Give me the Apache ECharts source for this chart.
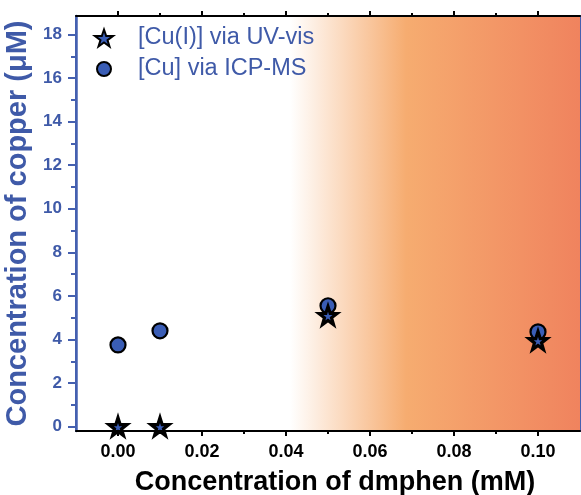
<!DOCTYPE html>
<html>
<head>
<meta charset="utf-8">
<script src="https://cdn.jsdelivr.net/npm/echarts@6/dist/echarts.min.js"></script>
<style>
html,body{margin:0;padding:0;background:#fff;}
#chart{width:581px;height:495px;}
</style>
</head>
<body>
<div id="chart"></div>
<script>
// Data
const xValues = [0, 0.01, 0.05, 0.1];
const uvVis = [0, 0, 5.1, 3.95];        // [Cu(I)] via UV-vis
const icpMs = [3.75, 4.4, 5.55, 4.35];  // [Cu] via ICP-MS
const xMajorTicks = [0, 0.02, 0.04, 0.06, 0.08, 0.10];
const xMinorTicks = [0.01, 0.03, 0.05, 0.07, 0.09];
const yMajorTicks = [0, 2, 4, 6, 8, 10, 12, 14, 16, 18];
const yMinorTicks = [1, 3, 5, 7, 9, 11, 13, 15, 17];
const seriesNames = ['[Cu(I)] via UV-vis', '[Cu] via ICP-MS'];
const xTitle = 'Concentration of dmphen (mM)';
const yTitle = 'Concentration of copper (\u03bcM)';
const shadeRange = [0.041, 0.11];
const yAllTicks = yMajorTicks.concat(yMinorTicks).sort((a, b) => a - b);

const FONT = "'Liberation Sans', Arial, sans-serif";
const BLUE = '#3F5AA8';
const AXBLUE = '#4560B0';
const FILL = '#3A5DB5';
const XMIN = -0.01, XMAX = 0.11, YMIN = -0.2, YMAX = 18.85;
const STAR = 'path://M50,0 L61.8,35.1 L98.1,35.1 L68.8,56.7 L79.4,90.5 L50,69.6 L20.6,90.5 L31.2,56.7 L1.9,35.1 L38.2,35.1 Z';

const legendText = { color: BLUE, fontSize: 23.5, fontFamily: FONT, lineHeight: 24 };

function tickAxis(kind, pos, ticks, len, color) {
  return {
    type: 'value', position: pos, z: 10,
    min: kind === 'x' ? XMIN : YMIN, max: kind === 'x' ? XMAX : YMAX,
    axisLine: { show: false, onZero: false },
    axisTick: { show: true, inside: false, length: len, customValues: ticks, lineStyle: { color: color, width: 2 } },
    axisLabel: { show: false },
    splitLine: { show: false }
  };
}
function lineAxis(kind, pos, color, width) {
  return {
    type: 'value', position: pos, z: 10,
    min: kind === 'x' ? XMIN : YMIN, max: kind === 'x' ? XMAX : YMAX,
    axisLine: { show: true, onZero: false, lineStyle: { color: color, width: width } },
    axisTick: { show: false },
    axisLabel: { show: false },
    splitLine: { show: false }
  };
}

const chart = echarts.init(document.getElementById('chart'));
chart.setOption({
  animation: false,
  backgroundColor: '#fff',
  grid: { left: 76, right: 1, top: 16, bottom: 64, outerBoundsMode: 'none',
    show: true, borderColor: AXBLUE, borderWidth: 2, backgroundColor: 'transparent' },
  legend: [
    {
      orient: 'vertical', left: 94, top: 26, padding: 0,
      itemWidth: 18, itemHeight: 18,
      data: [seriesNames[0]],
      textStyle: Object.assign({ padding: [0, 0, 0, 20] }, legendText)
    },
    {
      orient: 'vertical', left: 96, top: 57, padding: 0,
      itemWidth: 14, itemHeight: 14,
      data: [seriesNames[1]],
      textStyle: Object.assign({ padding: [0, 0, 0, 22] }, legendText)
    }
  ],
  xAxis: [
    { type: 'value', position: 'bottom', min: XMIN, max: XMAX,
      axisLine: { show: false, onZero: false },
      axisTick: { show: false },
      axisLabel: { customValues: xMajorTicks, margin: 12, color: '#000', fontSize: 18, fontWeight: 'bold', fontFamily: FONT,
        formatter: v => v.toFixed(2) },
      splitLine: { show: false },
      name: xTitle, nameLocation: 'middle', nameGap: 38,
      nameTextStyle: { color: '#000', fontSize: 27, fontWeight: 'bold', fontFamily: FONT, padding: [0, 0, 0, 14] } },
    lineAxis('x', 'bottom', '#000', 2),
    tickAxis('x', 'bottom', xMajorTicks, 5, '#000'),
    tickAxis('x', 'bottom', xMinorTicks, 3, '#000'),
    lineAxis('x', 'top', '#000', 2),
    tickAxis('x', 'top', xMajorTicks, 5, '#000'),
    tickAxis('x', 'top', xMinorTicks, 3, '#000')
  ],
  yAxis: [
    { type: 'value', position: 'left', min: YMIN, max: YMAX,
      axisLine: { show: false, onZero: false },
      axisTick: { show: false },
      axisLabel: { customValues: yMajorTicks, margin: 14, color: BLUE, fontSize: 17, fontWeight: 'bold', fontFamily: FONT },
      splitLine: { show: false },
      name: yTitle, nameLocation: 'middle', nameGap: 38,
      nameTextStyle: { color: BLUE, fontSize: 29, fontWeight: 'bold', fontFamily: FONT } },
    lineAxis('y', 'left', AXBLUE, 2.5),
    tickAxis('y', 'left', yMajorTicks, 8, AXBLUE),
    tickAxis('y', 'left', yAllTicks, 5, AXBLUE)
  ],
  series: [
    {
      name: seriesNames[1], type: 'scatter', xAxisIndex: 0, yAxisIndex: 0,
      symbol: 'circle', symbolSize: 15, z: 3,
      itemStyle: { color: FILL, borderColor: '#000', borderWidth: 2.2, opacity: 1 },
      data: xValues.map((x, i) => [x, icpMs[i]]),
      markArea: {
        silent: true,
        itemStyle: {
          opacity: 1,
          color: new echarts.graphic.LinearGradient(0, 0, 1, 0, [
            { offset: 0, color: '#ffffff' },
            { offset: 0.4, color: '#F6AC70' },
            { offset: 1, color: '#F0835E' }
          ])
        },
        data: [[{ xAxis: shadeRange[0] }, { xAxis: shadeRange[1] }]]
      }
    },
    {
      name: seriesNames[0], type: 'scatter', xAxisIndex: 0, yAxisIndex: 0,
      symbol: STAR, symbolSize: 18, z: 4,
      itemStyle: { color: FILL, borderColor: '#000', borderWidth: 3.2, opacity: 1 },
      data: xValues.map((x, i) => [x, uvVis[i]])
    }
  ]
});
</script>
</body>
</html>
